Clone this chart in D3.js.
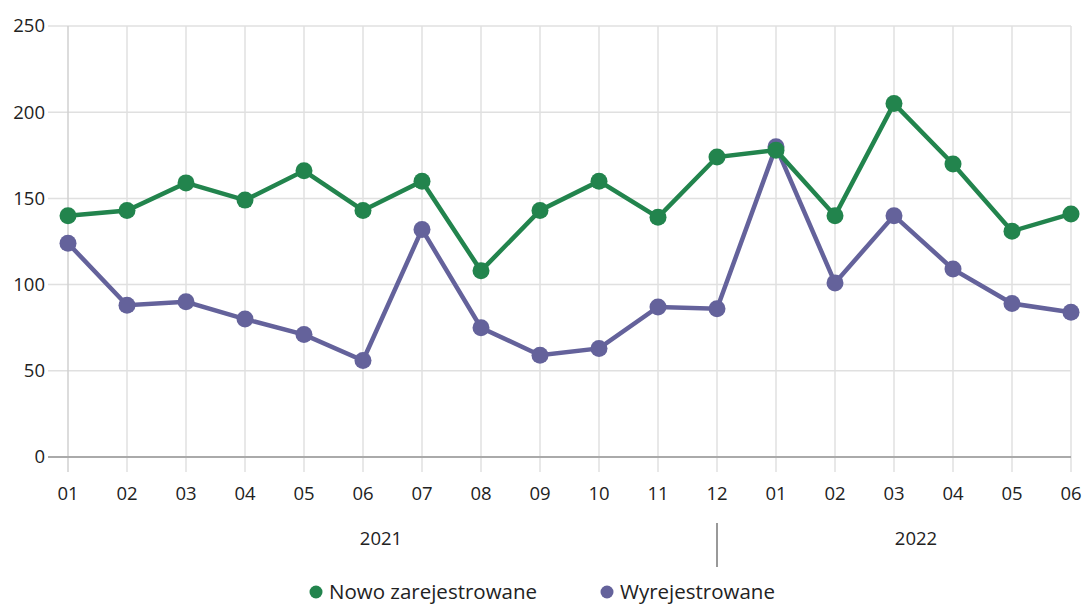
<!DOCTYPE html>
<html><head><meta charset="utf-8">
<script src="https://cdn.jsdelivr.net/npm/d3@7"></script>
<style>body{margin:0;background:#fff}text{font-family:"Open Sans",sans-serif;fill:#222}</style>
</head><body><svg id="c" width="1087" height="606"></svg>
<script>
const months = ["01","02","03","04","05","06","07","08","09","10","11","12","01","02","03","04","05","06"];
const years = ["2021","2022"];
const newReg = [140,143,159,149,166,143,160,108,143,160,139,174,178,140,205,170,131,141];
const deReg = [124,88,90,80,71,56,132,75,59,63,87,86,180,101,140,109,89,84];
const yTicks = [0,50,100,150,200,250];
const seriesNames = ["Nowo zarejestrowane","Wyrejestrowane"];
const colors = ["#22844d","#64629b"];
const FS = 18.5;

const svg = d3.select("#c");
const x = d3.scalePoint().domain(d3.range(months.length)).range([68,1071]);
const y = d3.scaleLinear().domain([0,250]).range([457,26]);

const g = svg.append("g");
g.selectAll(".hg").data(yTicks.filter(d=>d>0)).enter().append("line")
 .attr("x1",48).attr("x2",1071).attr("y1",d=>y(d)).attr("y2",d=>y(d))
 .attr("stroke","#e0e0e0").attr("stroke-width",1.5);
g.selectAll(".vg").data(d3.range(months.length)).enter().append("line")
 .attr("x1",d=>x(d)).attr("x2",d=>x(d)).attr("y1",y(250)).attr("y2",472)
 .attr("stroke",d=>d===0?"#d0d0d0":"#e0e0e0").attr("stroke-width",1.5);
g.append("line").attr("x1",48).attr("x2",1071).attr("y1",y(0)).attr("y2",y(0)).attr("stroke","#aaa").attr("stroke-width",2);
g.selectAll(".yl").data(yTicks).enter().append("text")
 .attr("x",45).attr("y",d=>y(d)).attr("dy","0.35em").attr("text-anchor","end")
 .attr("font-size",FS).text(d=>d);
g.selectAll(".xl").data(months).enter().append("text")
 .attr("x",(d,i)=>x(i)).attr("y",500).attr("text-anchor","middle").attr("font-size",FS).text(d=>d);
g.selectAll(".yr").data(years).enter().append("text")
 .attr("x",(d,i)=>i===0?381:916).attr("y",545).attr("text-anchor","middle").attr("font-size",FS).text(d=>d);
g.append("line").attr("x1",x(11)).attr("x2",x(11)).attr("y1",523).attr("y2",567).attr("stroke","#999").attr("stroke-width",2);

const line = d3.line().x((d,i)=>x(i)).y(d=>y(d));
[[deReg,1],[newReg,0]].forEach(([data,idx])=>{
  g.append("path").attr("d",line(data)).attr("fill","none").attr("stroke",colors[idx]).attr("stroke-width",4.5);
  g.selectAll(".pt"+idx).data(data).enter().append("circle")
   .attr("cx",(d,i)=>x(i)).attr("cy",d=>y(d)).attr("r",8.5).attr("fill",colors[idx]);
});

const legX = [316,607];
seriesNames.forEach((n,i)=>{
  g.append("circle").attr("cx",legX[i]).attr("cy",592).attr("r",6.5).attr("fill",colors[i]);
  g.append("text").attr("x",legX[i]+13).attr("y",599).attr("font-size",20.5).text(n);
});
</script></body></html>
